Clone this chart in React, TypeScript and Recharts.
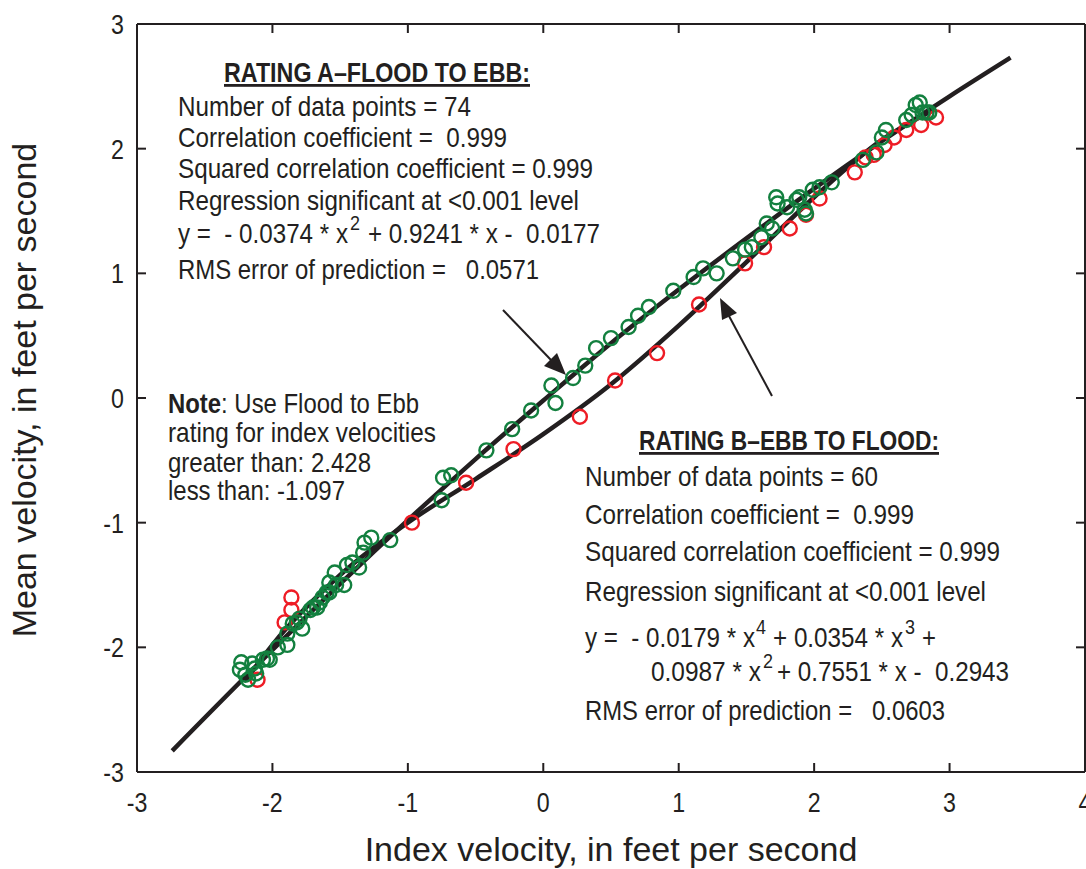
import React from 'react';
import { ComposedChart, Scatter, Line, XAxis, YAxis } from 'recharts';

const xTicks = [-3, -2, -1, 0, 1, 2, 3, 4];
const yTicks = [-3, -2, -1, 0, 1, 2, 3];

// Rating A (flood to ebb) observations, green circles
const floodToEbbPoints: [number, number][] = [
  [-2.23, -2.12], [-2.2, -2.22], [-2.15, -2.13], [-2.12, -2.21], [-2.07, -2.1], [-2.04, -2.09],
  [-2.02, -2.1], [-2.18, -2.26], [-2.24, -2.18], [-2.13, -2.17], [-1.96, -2.0], [-1.89, -1.98],
  [-1.89, -1.89], [-1.85, -1.81], [-1.82, -1.8], [-1.78, -1.85], [-1.8, -1.77], [-1.72, -1.7],
  [-1.7, -1.68], [-1.67, -1.68], [-1.65, -1.64], [-1.63, -1.6], [-1.6, -1.56], [-1.58, -1.48],
  [-1.58, -1.56], [-1.54, -1.4], [-1.53, -1.5], [-1.47, -1.5], [-1.45, -1.34], [-1.41, -1.32],
  [-1.36, -1.36], [-1.33, -1.24], [-1.32, -1.16], [-1.27, -1.12], [-1.13, -1.14], [-0.74, -0.64],
  [-0.68, -0.62], [-0.75, -0.82], [-0.42, -0.42], [-0.23, -0.25], [-0.09, -0.1], [0.06, 0.1],
  [0.09, -0.04], [0.22, 0.16], [0.31, 0.26], [0.39, 0.4], [0.5, 0.48], [0.63, 0.57],
  [0.7, 0.66], [0.78, 0.73], [0.96, 0.86], [1.11, 0.97], [1.18, 1.04], [1.28, 1.0],
  [1.4, 1.12], [1.49, 1.19], [1.54, 1.21], [1.61, 1.29], [1.65, 1.4], [1.69, 1.36],
  [1.72, 1.61], [1.73, 1.56], [1.8, 1.53], [1.87, 1.59], [1.89, 1.61], [1.93, 1.51],
  [1.94, 1.48], [1.99, 1.67], [2.04, 1.69], [2.13, 1.73], [2.36, 1.91], [2.46, 1.97],
  [2.5, 2.09], [2.53, 2.15], [2.68, 2.23], [2.72, 2.27], [2.75, 2.35], [2.78, 2.37],
  [2.8, 2.29], [2.83, 2.29], [2.85, 2.29],
];

// Rating B (ebb to flood) observations, red circles
const ebbToFloodPoints: [number, number][] = [
  [-2.11, -2.26], [-1.91, -1.8], [-1.86, -1.7], [-1.86, -1.6], [-0.97, -1.0], [-0.57, -0.68],
  [-0.22, -0.41], [0.27, -0.15], [0.53, 0.14], [0.84, 0.36], [1.15, 0.75], [1.49, 1.08],
  [1.63, 1.21], [1.82, 1.36], [1.94, 1.47], [2.04, 1.6], [2.3, 1.81], [2.38, 1.93],
  [2.44, 1.95], [2.52, 2.03], [2.59, 2.09], [2.68, 2.15], [2.79, 2.19], [2.9, 2.25],
];

// fitted rating curves
const ratingAX = [-2.74, -2, -1.5, -1, -0.5, 0, 0.5, 1, 1.5, 2, 2.5, 3, 3.45];
const ratingAY = [-2.83, -2.02, -1.49, -0.98, -0.49, -0.02, 0.44, 0.87, 1.28, 1.68, 2.06, 2.42, 2.73];
const ratingBX = [-2.2, -2, -1.5, -1, -0.5, 0, 0.5, 1, 1.5, 2, 2.5, 2.9];
const ratingBY = [-2.27, -1.98, -1.42, -1.0, -0.65, -0.29, 0.11, 0.58, 1.09, 1.61, 2.07, 2.32];

const ink = '#231f20';
const green = '#13803f';
const red = '#ee1c25';
const sans = "'Liberation Sans', Arial, sans-serif";

const toXY = (pts: [number, number][]) => pts.map(([x, y]) => ({ x, y }));
const curve = (xs: number[], ys: number[]) => xs.map((x, i) => ({ x, y: ys[i] }));

const ring = (color: string) => (props: any) => (
  <circle cx={props.cx} cy={props.cy} r={7} fill="none" stroke={color} strokeWidth={2.4} />
);

// condensed look: squeeze each text to the width it has in the figure
const T = ({ x, y, w, bold, size = 28, under, children }: any) => (
  <text
    x={x}
    y={y}
    textLength={w}
    lengthAdjust="spacingAndGlyphs"
    fontFamily={sans}
    fontSize={size}
    fontWeight={bold ? 700 : 400}
    fill={ink}
    textDecoration={under ? 'underline' : undefined}
    style={{ whiteSpace: 'pre' }}
  >
    {children}
  </text>
);

const tickText = { fontFamily: sans, fontSize: 27, fill: ink };
const squeeze = (x: number) => `translate(${x},0) scale(0.86,1) translate(${-x},0)`;

const BottomTick = (props: any) => {
  const { x, y, payload } = props;
  const v = payload.value;
  return (
    <g>
      {v > -3 && v < 4 && <line x1={x} x2={x} y1={y} y2={y - 9} stroke={ink} strokeWidth={2} />}
      <text x={x} y={y + 40} textAnchor="middle" {...tickText} transform={squeeze(x)}>
        {v}
      </text>
    </g>
  );
};

const LeftTick = (props: any) => {
  const { x, y, payload } = props;
  const v = payload.value;
  return (
    <g>
      {v > -3 && v < 3 && <line x1={x} x2={x + 9} y1={y} y2={y} stroke={ink} strokeWidth={2} />}
      <text x={x - 13} y={y + 10} textAnchor="end" {...tickText} transform={squeeze(x - 13)}>
        {v}
      </text>
    </g>
  );
};

const TopTick = (props: any) => {
  const { x, y, payload } = props;
  const v = payload.value;
  if (v <= -3 || v >= 4) return <g />;
  return <line x1={x} x2={x} y1={y} y2={y + 9} stroke={ink} strokeWidth={2} />;
};

const RightTick = (props: any) => {
  const { x, y, payload } = props;
  const v = payload.value;
  if (v <= -3 || v >= 3) return <g />;
  return <line x1={x} x2={x - 9} y1={y} y2={y} stroke={ink} strokeWidth={2} />;
};

const Annotations = () => (
  <svg width={1086} height={869} style={{ position: 'absolute', left: 0, top: 0, pointerEvents: 'none' }}>
    {/* Rating A block */}
    <T x={224} y={82} w={306} bold under>RATING A–FLOOD TO EBB:</T>
    <T x={178} y={116} w={293}>Number of data points = 74</T>
    <T x={178} y={147} w={329}>Correlation coefficient =  0.999</T>
    <T x={178} y={178} w={415}>Squared correlation coefficient = 0.999</T>
    <T x={178} y={210} w={401}>Regression significant at &lt;0.001 level</T>
    <T x={178} y={243} w={170}>y =  - 0.0374 * x</T>
    <T x={350} y={230} w={10} size={21}>2</T>
    <T x={368} y={243} w={232}>+ 0.9241 * x -  0.0177</T>
    <T x={178} y={279} w={361}>RMS error of prediction =   0.0571</T>

    {/* Note block */}
    <text x={168} y={413} textLength={251} lengthAdjust="spacingAndGlyphs" fontFamily={sans} fontSize={28} fill={ink}>
      <tspan fontWeight={700}>Note</tspan>: Use Flood to Ebb
    </text>
    <T x={168} y={442} w={268}>rating for index velocities</T>
    <T x={168} y={472} w={203}>greater than: 2.428</T>
    <T x={168} y={500} w={177}>less than: -1.097</T>

    {/* Rating B block */}
    <T x={639} y={450} w={300} bold under>RATING B–EBB TO FLOOD:</T>
    <T x={585} y={486} w={293}>Number of data points = 60</T>
    <T x={585} y={524} w={329}>Correlation coefficient =  0.999</T>
    <T x={585} y={561} w={415}>Squared correlation coefficient = 0.999</T>
    <T x={585} y={601} w={401}>Regression significant at &lt;0.001 level</T>
    <T x={585} y={647} w={170}>y =  - 0.0179 * x</T>
    <T x={756} y={634} w={10} size={21}>4</T>
    <T x={773} y={647} w={130}>+ 0.0354 * x</T>
    <T x={905} y={634} w={10} size={21}>3</T>
    <T x={922} y={647} w={14}>+</T>
    <T x={651} y={681} w={110}>0.0987 * x</T>
    <T x={763} y={668} w={10} size={21}>2</T>
    <T x={777} y={681} w={232}>+ 0.7551 * x -  0.2943</T>
    <T x={585} y={720} w={360}>RMS error of prediction =   0.0603</T>

    {/* arrows */}
    <line x1={503} y1={310} x2={551} y2={360} stroke={ink} strokeWidth={2} />
    <polygon points="566,375 544,366 557,353" fill={ink} />
    <line x1={772} y1={396} x2={729} y2={316} stroke={ink} strokeWidth={2} />
    <polygon points="720,298 737,313 722,320" fill={ink} />

    {/* axis titles */}
    <text x={611} y={861} textAnchor="middle" fontFamily={sans} fontSize={34} fill={ink}>
      Index velocity, in feet per second
    </text>
    <text x={0} y={0} transform="translate(36,390) rotate(-90)" textAnchor="middle" fontFamily={sans} fontSize={34} fill={ink}>
      Mean velocity, in feet per second
    </text>
  </svg>
);

export default function App() {
  return (
    <div style={{ position: 'absolute', left: 0, top: 0, width: 1086, height: 869, background: '#fff' }}>
      <ComposedChart width={1086} height={869} margin={{ top: 23, right: 0, bottom: 0, left: 0 }}>
        <XAxis
          xAxisId="bottom"
          dataKey="x"
          type="number"
          domain={[-3, 4]}
          ticks={xTicks}
          interval={0}
          height={97}
          allowDataOverflow
          axisLine={{ stroke: ink, strokeWidth: 2 }}
          tickLine={false}
          tickSize={0}
          tickMargin={0}
          tick={<BottomTick />}
        />
        <XAxis
          xAxisId="top"
          orientation="top"
          dataKey="x"
          type="number"
          domain={[-3, 4]}
          ticks={xTicks}
          interval={0}
          height={1}
          allowDataOverflow
          axisLine={{ stroke: ink, strokeWidth: 2 }}
          tickLine={false}
          tickSize={0}
          tickMargin={0}
          tick={<TopTick />}
        />
        <YAxis
          yAxisId="left"
          type="number"
          domain={[-3, 3]}
          ticks={yTicks}
          interval={0}
          width={137}
          allowDataOverflow
          axisLine={{ stroke: ink, strokeWidth: 2 }}
          tickLine={false}
          tickSize={0}
          tickMargin={0}
          tick={<LeftTick />}
        />
        <YAxis
          yAxisId="right"
          orientation="right"
          type="number"
          domain={[-3, 3]}
          ticks={yTicks}
          interval={0}
          width={1}
          allowDataOverflow
          axisLine={{ stroke: ink, strokeWidth: 2 }}
          tickLine={false}
          tickSize={0}
          tickMargin={0}
          tick={<RightTick />}
        />
        <Scatter xAxisId="bottom" yAxisId="left" data={toXY(ebbToFloodPoints)} dataKey="y" shape={ring(red)} isAnimationActive={false} />
        <Scatter xAxisId="bottom" yAxisId="left" data={toXY(floodToEbbPoints)} dataKey="y" shape={ring(green)} isAnimationActive={false} />
        <Line
          xAxisId="bottom"
          yAxisId="left"
          data={curve(ratingAX, ratingAY)}
          dataKey="y"
          type="monotone"
          stroke={ink}
          strokeWidth={4.5}
          dot={false}
          activeDot={false}
          isAnimationActive={false}
        />
        <Line
          xAxisId="bottom"
          yAxisId="left"
          data={curve(ratingBX, ratingBY)}
          dataKey="y"
          type="monotone"
          stroke={ink}
          strokeWidth={4.5}
          dot={false}
          activeDot={false}
          isAnimationActive={false}
        />
      </ComposedChart>
      <Annotations />
    </div>
  );
}
